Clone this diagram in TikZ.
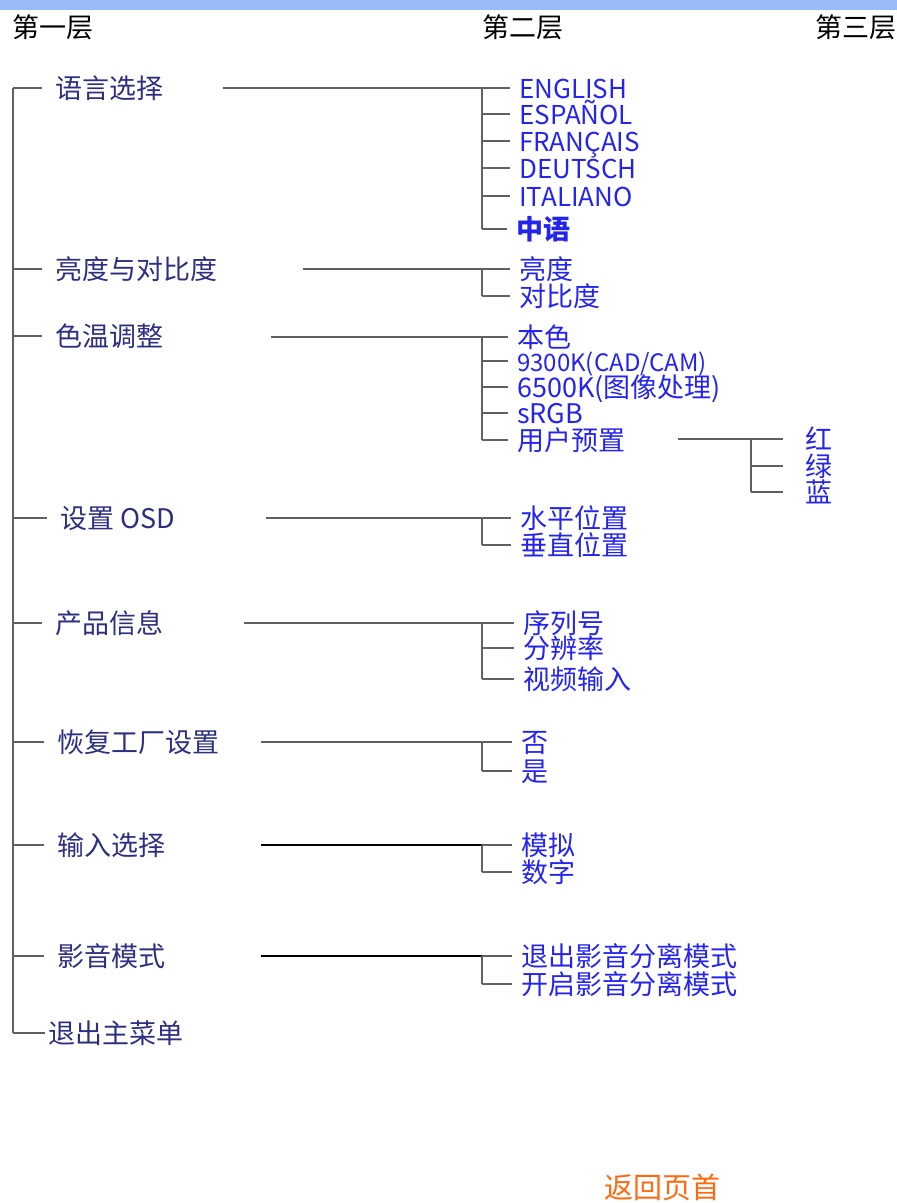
\documentclass[tikz,border=0pt]{standalone}
\usepackage{fontspec}
\setmainfont{Noto Sans CJK SC}
\usepackage{tikz}
\usepackage{color}

\definecolor{navy}{HTML}{2E2E82}
\definecolor{menublue}{HTML}{2424EE}
\definecolor{barblue}{HTML}{99BBF7}
\definecolor{backorange}{HTML}{FF6A10}

\tikzset{
    lvlone/.style={anchor=west, inner sep=0pt, text=navy, text height=24pt, text depth=3pt,
        font=\fontsize{27}{27}\selectfont},
    lvltwo/.style={anchor=west, inner sep=0pt, text=menublue, text height=24pt, text depth=3pt,
        font=\fontsize{27}{27}\selectfont},
    hdr/.style={anchor=west, inner sep=0pt, text height=24pt, text depth=3pt,
        font=\fontsize{27}{27}\selectfont},
    conn/.style={gray!75!black, line width=1.3pt},
    thickconn/.style={conn, line width=2pt},
    darkconn/.style={conn, black},
}

\begin{document}
\begin{tikzpicture}[x=1pt, y=-1pt]
    \useasboundingbox (0,0) rectangle (897,1203);
    \fill[barblue] (0,0) rectangle (897,10);

    % headers
    \node[hdr] (h1) at (12,27) {第一层};
    \node[hdr] (h2) at (482,27) {第二层};
    \node[hdr] (h3) at (815,27) {第三层};

    % first level
    \foreach \n/\x/\y/\t in {1/55/88/语言选择, 2/55/269/亮度与对比度, 3/55/336/色温调整,
        4/60/518/设置 OSD, 5/55/623/产品信息, 6/57/742/恢复工厂设置,
        7/57/845/输入选择, 8/57/956/影音模式, 9/48/1033/退出主菜单}{
        \node[lvlone] (m\n) at (\x,\y) {\t};
    }
    \coordinate (trunktop) at (13,88);
    \coordinate (trunkbot) at (13,1033);
    \draw[conn] (trunktop) -- (trunkbot);
    \foreach \n in {1,...,8}{
        \draw[conn] (m\n.west -| trunktop) -- ([xshift=-13pt]m\n.west);
    }
    \draw[conn] (trunkbot) -- ([xshift=-3pt]m9.west);

    % second level
    \foreach \n/\y/\t in {1/88/ENGLISH, 2/114/ESPAÑOL, 3/141/FRANÇAIS, 4/168/DEUTSCH,
        5/196/ITALIANO}{
        \node[lvltwo, font=\fontsize{26}{26}\selectfont] (lang-\n) at (519,\y) {\t};
    }
    \node[lvltwo, font=\fontsize{27}{27}\selectfont\bfseries] (lang-6) at (516,229) {中语};
    \foreach \n/\y/\t in {1/269/亮度, 2/296/对比度}{
        \node[lvltwo] (bri-\n) at (519,\y) {\t};
    }
    \foreach \n/\y/\t in {1/337/本色, 3/387/{6500K(图像处理)}, 4/413/sRGB, 5/440/用户预置}{
        \node[lvltwo] (col-\n) at (517,\y) {\t};
    }
    \node[lvltwo, font=\fontsize{24}{24}\selectfont] (col-2) at (517,361) {9300K(CAD/CAM)};
    \foreach \n/\y/\t in {1/518/水平位置, 2/545/垂直位置}{
        \node[lvltwo] (osd-\n) at (520,\y) {\t};
    }
    \foreach \n/\y/\t in {1/623/序列号, 2/648/分辨率, 3/679/视频输入}{
        \node[lvltwo] (info-\n) at (523,\y) {\t};
    }
    \foreach \n/\y/\t in {1/742/否, 2/771/是}{
        \node[lvltwo] (rst-\n) at (521,\y) {\t};
    }
    \foreach \n/\y/\t in {1/845/模拟, 2/872/数字}{
        \node[lvltwo] (inp-\n) at (521,\y) {\t};
    }
    \foreach \n/\y/\t in {1/956/退出影音分离模式, 2/984/开启影音分离模式}{
        \node[lvltwo] (av-\n) at (521,\y) {\t};
    }

    % third level
    \foreach \n/\y/\t in {1/439/红, 2/466/绿, 3/492/蓝}{
        \node[lvltwo] (usr-\n) at (805,\y) {\t};
    }

    % brackets to second level
    \foreach \g/\k/\s/\c in {lang/6/223/conn, bri/2/303/conn, col/5/271/conn,
        osd/2/266/conn, info/3/244/conn, rst/2/261/thickconn,
        inp/2/261/darkconn, av/2/261/darkconn}{
        \coordinate (\g-s) at (\s,0);
        \coordinate (\g-b) at (482,0);
        \draw[\c] (\g-s |- \g-1.west) -- (\g-b |- \g-1.west);
        \draw[conn] (\g-b |- \g-1.west) -- (\g-b |- \g-\k.west);
        \foreach \i in {1,...,\k}{
            \draw[conn] (\g-b |- \g-\i.west) -- ([xshift=-9pt]\g-\i.west);
        }
    }

    % bracket to third level
    \coordinate (usr-s) at (678,0);
    \coordinate (usr-b) at (751,0);
    \draw[conn] (usr-s |- usr-1.west) -- (usr-b |- usr-1.west);
    \draw[conn] (usr-b |- usr-1.west) -- (usr-b |- usr-3.west);
    \foreach \i in {1,2,3}{
        \draw[conn] (usr-b |- usr-\i.west) -- ([xshift=-22pt]usr-\i.west);
    }

    \node[hdr, text=backorange, font=\fontsize{29}{29}\selectfont] (back) at (604,1188) {返回页首};
\end{tikzpicture}
\end{document}
